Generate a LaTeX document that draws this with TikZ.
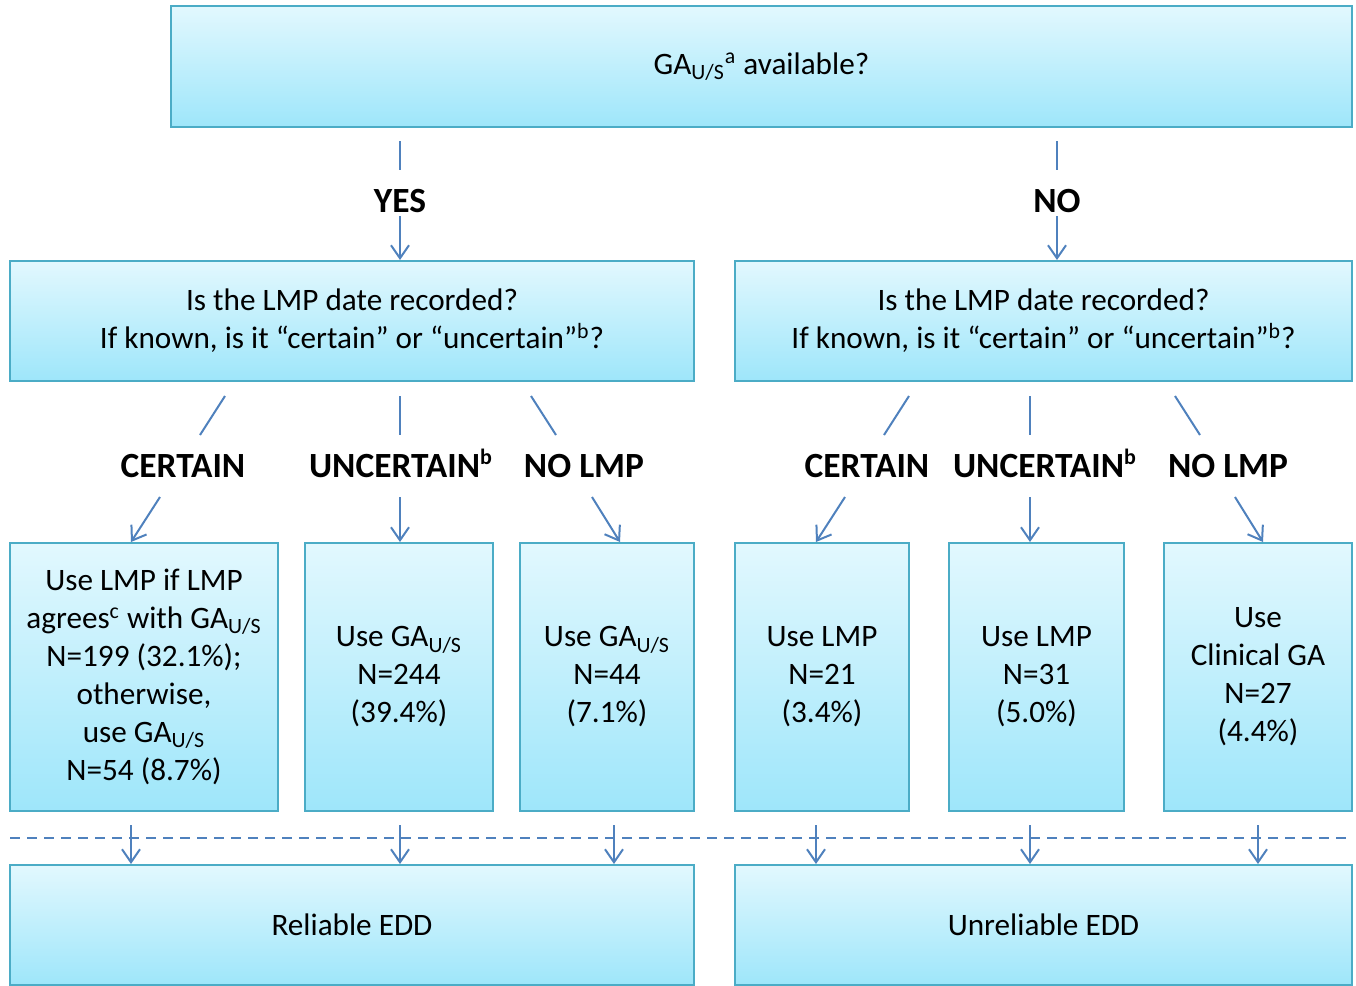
\documentclass[tikz,border=0pt]{standalone}
\usepackage{fontspec}
\setmainfont{Carlito}
\usetikzlibrary{arrows.meta}
\definecolor{bord}{RGB}{75,172,198}
\definecolor{boxtop}{RGB}{226,248,254}
\definecolor{boxbot}{RGB}{158,230,250}
\definecolor{conncol}{RGB}{79,129,189}
\newcommand\myboxfont{\fontsize{15.6}{19}\selectfont\lineskiplimit-20pt\relax}
\newcommand\supb{\textsuperscript{\fontsize{11}{11}\selectfont b}}
\begin{document}
\begin{tikzpicture}[x=0.5pt,y=-0.5pt,
  box/.style={draw=bord, line width=1pt, top color=boxtop, bottom color=boxbot,
    align=center, inner sep=0pt, font=\myboxfont},
  lbl/.style={font=\fontsize{17.7}{20}\selectfont\bfseries, inner sep=1pt, anchor=base},
  conn/.style={draw=conncol, line width=1pt},
  arr/.style={conn, -{Straight Barb[length=6.5pt,width=9pt,line width=1pt]}},
  dashline/.style={draw=conncol, line width=1pt, dash pattern=on 5pt off 3.5pt}]
\useasboundingbox (0,0) rectangle (1356,986);

% boxes
\node[box, minimum width=590.5pt, minimum height=60.5pt] (top) at (761.5,66.5) {GA\textsubscript{U/S}\textsuperscript{a} available?};
\node[box, minimum width=342pt, minimum height=60pt] (qL) at (352,321) {Is the LMP date recorded?\\If known, is it “certain” or “uncertain”\textsuperscript{b}?};
\node[box, minimum width=308.5pt, minimum height=60pt] (qR) at (1043.5,321) {Is the LMP date recorded?\\If known, is it “certain” or “uncertain”\textsuperscript{b}?};

\node[box, minimum width=134pt, minimum height=134pt] (b1) at (144,677) {Use LMP if LMP\\agrees\textsuperscript{c} with GA\textsubscript{U/S}\\N=199 (32.1\%);\\otherwise,\\use GA\textsubscript{U/S}\\N=54 (8.7\%)};
\node[box, minimum width=94pt, minimum height=134pt] (b2) at (399,677) {Use GA\textsubscript{U/S}\\N=244\\(39.4\%)};
\node[box, minimum width=87pt, minimum height=134pt] (b3) at (607,677) {Use GA\textsubscript{U/S}\\N=44\\(7.1\%)};
\node[box, minimum width=87pt, minimum height=134pt] (b4) at (822,677) {Use LMP\\N=21\\(3.4\%)};
\node[box, minimum width=87.5pt, minimum height=134pt] (b5) at (1036.5,677) {Use LMP\\N=31\\(5.0\%)};
\node[box, minimum width=94pt, minimum height=134pt] (b6) at (1258,677) {Use\\Clinical GA\\N=27\\(4.4\%)};

\node[box, minimum width=342pt, minimum height=60pt] (rel) at (352,925) {Reliable EDD};
\node[box, minimum width=308.5pt, minimum height=60pt] (unrel) at (1043.5,925) {Unreliable EDD};

% labels
\node[lbl] (yes) at (400,212) {YES};
\node[lbl] (no) at (1057,212) {NO};
\node[lbl] (c1) at (183,477) {CERTAIN};
\node[lbl] (u1) at (401,477) {UNCERTAIN\supb};
\node[lbl] (n1) at (584,477) {NO LMP};
\node[lbl] (c2) at (867,477) {CERTAIN};
\node[lbl] (u2) at (1045,477) {UNCERTAIN\supb};
\node[lbl] (n2) at (1228,477) {NO LMP};

% top connectors
\coordinate (ys) at (400,141); \coordinate (ye) at (400,170);
\coordinate (ns) at (1057,141); \coordinate (ne) at (1057,170);
\coordinate (yb) at (400,216); \coordinate (nb) at (1057,216);
\draw[conn] (ys) -- (ye);
\draw[conn] (ns) -- (ne);
\draw[arr] (yb) -- (yb |- qL.north);
\draw[arr] (nb) -- (nb |- qR.north);

% diagonals to labels
\coordinate (d1s) at (225,396); \coordinate (d1e) at (200,435);
\coordinate (d2s) at (400,396); \coordinate (d2e) at (400,435);
\coordinate (d3s) at (531,396); \coordinate (d3e) at (556,435);
\coordinate (d4s) at (909,396); \coordinate (d4e) at (884,435);
\coordinate (d5s) at (1030,396); \coordinate (d5e) at (1030,435);
\coordinate (d6s) at (1175,396); \coordinate (d6e) at (1200,435);
\foreach \i in {1,...,6} {\draw[conn] (d\i s) -- (d\i e);}

% arrows from labels to boxes
\coordinate (a1s) at (160,497); \coordinate (a1e) at (131,542);
\coordinate (a2s) at (400,497); \coordinate (a2e) at (400,542);
\coordinate (a3s) at (592,497); \coordinate (a3e) at (620,542);
\coordinate (a4s) at (845,497); \coordinate (a4e) at (816,542);
\coordinate (a5s) at (1030,497); \coordinate (a5e) at (1030,542);
\coordinate (a6s) at (1235,497); \coordinate (a6e) at (1263,542);
\foreach \i in {1,...,6} {\draw[arr] (a\i s) -- (a\i e);}

% dashed separator
\coordinate (dl) at (10,838); \coordinate (dr) at (1352,838);
\draw[dashline] (dl) -- (dr);

% arrows to outcome boxes
\foreach \x in {131, 400, 614, 816, 1030, 1258} {
  \draw[arr] (\x,825) -- (\x,864);
}
\end{tikzpicture}
\end{document}
